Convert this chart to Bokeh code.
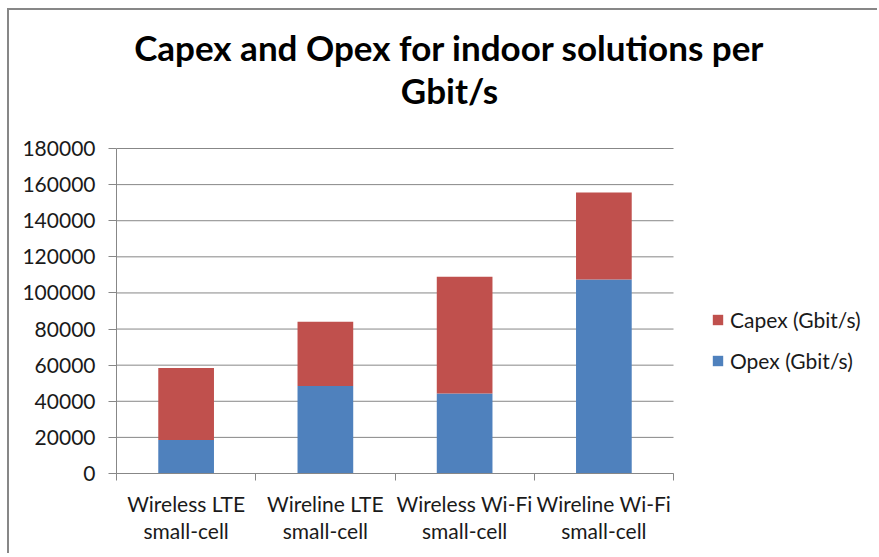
from bokeh.plotting import figure
from bokeh.models import (Range1d, FixedTicker, Label, Legend, LegendItem,
                          ColumnDataSource)
from bokeh.embed import file_html
from bokeh.resources import INLINE

# Cost per Gbit/s for four indoor deployment options
categories = ["Wireless LTE\nsmall-cell", "Wireline LTE\nsmall-cell",
              "Wireless Wi-Fi\nsmall-cell", "Wireline Wi-Fi\nsmall-cell"]
opex = [18500, 48500, 44300, 107500]
capex = [40000, 35500, 64700, 48100]
series = ["Opex (Gbit/s)", "Capex (Gbit/s)"]
y_ticks = [0, 20000, 40000, 60000, 80000, 100000, 120000, 140000, 160000, 180000]

title_lines = ["Capex and Opex for indoor solutions per", "Gbit/s"]

BLUE = "#4F81BD"
RED = "#C0504D"
GRID = "#878787"
FONT = "Lato"

n = len(categories)
y_max = y_ticks[-1]
centers = [i + 0.5 for i in range(n)]
src = ColumnDataSource(dict(x=centers, opex=opex, capex=capex))

# Page layout in pixels: plot area spans x 116..673, y 148..473; the frame
# is stretched over the title and legend space so those texts stay inside it.
W, H = 870, 545
LEFT, TOP_EDGE = 107, 10
RIGHT_EDGE = 9 + W
px_x = n / (673 - 116)          # data units per pixel, x
px_y = y_max / (473 - 148)      # data units per pixel, y

p = figure(width=W, height=H,
           x_range=Range1d(0, (RIGHT_EDGE - 116) * px_x),
           y_range=Range1d(0, (473 - TOP_EDGE) * px_y),
           output_backend="svg", toolbar_location=None,
           min_border_left=LEFT, min_border_right=0,
           min_border_top=0, min_border_bottom=H - (473 - TOP_EDGE))
p.margin = (8, 0, 0, 7)
p.styles = {"border-left": f"2px solid {GRID}", "border-top": f"2px solid {GRID}"}
p.outline_line_color = None
p.background_fill_color = "white"
p.border_fill_color = "white"
p.xgrid.grid_line_color = None
p.ygrid.grid_line_color = None

# horizontal gridlines across the category span only
p.segment(x0=[0] * len(y_ticks), x1=[n] * len(y_ticks), y0=y_ticks, y1=y_ticks,
          line_color=GRID, line_width=1)

renderers = p.vbar_stack(["opex", "capex"], x="x", width=0.4, source=src,
                         color=[BLUE, RED], line_color=None)

# y axis
p.yaxis.bounds = (0, y_max)
p.yaxis.ticker = FixedTicker(ticks=y_ticks)
p.yaxis.axis_line_color = GRID
p.yaxis.major_tick_line_color = GRID
p.yaxis.major_tick_in = 0
p.yaxis.major_tick_out = 8
p.yaxis.minor_tick_line_color = None
p.yaxis.major_label_text_font = FONT
p.yaxis.major_label_text_font_size = "21px"
p.yaxis.major_label_text_color = "#1a1a1a"
p.yaxis.major_label_standoff = 13
p.yaxis.formatter.use_scientific = False

# x axis: labels at bar centres, tick marks between categories
p.xaxis.bounds = (0, n)
p.xaxis.ticker = FixedTicker(ticks=centers, minor_ticks=list(range(n + 1)))
p.xaxis.major_label_overrides = {c: lab for c, lab in zip(centers, categories)}
p.xaxis.axis_line_color = GRID
p.xaxis.major_tick_line_color = None
p.xaxis.major_tick_in = 0
p.xaxis.major_tick_out = 0
p.xaxis.minor_tick_line_color = GRID
p.xaxis.minor_tick_in = 0
p.xaxis.minor_tick_out = 7
p.xaxis.major_label_text_font = FONT
p.xaxis.major_label_text_font_size = "21px"
p.xaxis.major_label_text_color = "#1a1a1a"
p.xaxis.major_label_text_line_height = 1.1
p.xaxis.major_label_standoff = 10

# two-line centred title
title_x = (449 - 116) * px_x
for line, base_px in zip(title_lines, [46, 89]):
    p.add_layout(Label(x=title_x, y=(473 - base_px) * px_y,
                       text=line, text_align="center", text_baseline="alphabetic",
                       text_font=FONT, text_font_style="bold",
                       text_font_size="35px", text_color="black"))

legend = Legend(items=[LegendItem(label=series[1], renderers=[renderers[1]]),
                       LegendItem(label=series[0], renderers=[renderers[0]])],
                location=(595, 100), orientation="vertical",
                glyph_width=13, glyph_height=13, label_height=24,
                label_standoff=6, spacing=16, padding=0, margin=0,
                label_text_font=FONT, label_text_font_size="21px",
                label_text_color="#1a1a1a",
                border_line_color=None, background_fill_alpha=0)
p.add_layout(legend, "center")

open("out.html", "w").write(file_html(p, INLINE))
